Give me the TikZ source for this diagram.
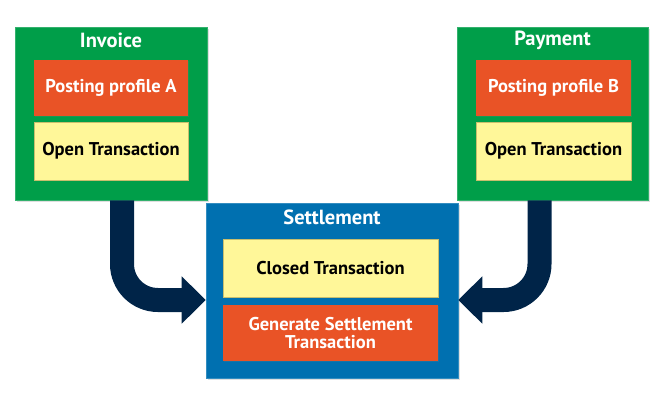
\documentclass[tikz,border=0pt]{standalone}
\usepackage{fontspec}
\setmainfont{PT Sans}
\usetikzlibrary{arrows.meta, positioning, shadows}

\definecolor{grpgreen}{RGB}{0,158,73}
\definecolor{grpblue}{RGB}{0,112,176}
\definecolor{boxorange}{RGB}{233,83,38}
\definecolor{boxyellow}{RGB}{255,247,153}
\definecolor{yellowline}{RGB}{200,190,110}
\definecolor{flownavy}{RGB}{0,36,72}

\tikzset{
  group/.style={draw=#1!80!white, fill=#1, line width=0.6pt, drop shadow={opacity=0.25, shadow xshift=1.5pt, shadow yshift=-1.5pt}},
  title/.style={text=white, font=\bfseries\fontsize{20.5}{22}\selectfont},
  profile/.style={fill=boxorange, text=white, align=center, font=\bfseries\fontsize{18.5}{18}\selectfont, drop shadow={opacity=0.2, shadow xshift=1pt, shadow yshift=-1pt}},
  trans/.style={fill=boxyellow, draw=yellowline, line width=0.6pt, text=black, font=\bfseries\fontsize{18.5}{18}\selectfont, drop shadow={opacity=0.2, shadow xshift=1pt, shadow yshift=-1pt}},
  flow/.style={draw=flownavy, line width=24pt, rounded corners=36pt, -{Triangle[length=24pt,width=46pt]}}
}

\begin{document}
\begin{tikzpicture}[x=1pt, y=-1pt, inner sep=0pt]
    \useasboundingbox (0,0) rectangle (664,400);

    % invoice
    \node[group=grpgreen, minimum width=192pt, minimum height=173pt] (invoice) at (111,113.5) {};
    \node[title] (invtitle) at (111,40) {Invoice};
    \node[profile, minimum width=154pt, minimum height=56pt] (profA) at (111,88) {Posting profile A};
    \node[trans, minimum width=154pt, minimum height=58pt] (openA) at (111,151) {Open Transaction};

    % payment
    \node[group=grpgreen, minimum width=191pt, minimum height=173pt] (payment) at (552.5,113.5) {};
    \node[title] (paytitle) at (552.5,40) {Payment};
    \node[profile, minimum width=155pt, minimum height=56pt] (profB) at (553.5,88) {Posting profile B};
    \node[trans, minimum width=155pt, minimum height=58pt] (openB) at (553.5,151) {Open Transaction};

    % settlement
    \node[group=grpblue, minimum width=252pt, minimum height=175pt] (settle) at (332,290.5) {};
    \node[title] (settitle) at (332,217) {Settlement};
    \node[trans, minimum width=215pt, minimum height=58pt] (closed) at (330.5,268) {Closed Transaction};
    \node[profile, minimum width=215pt, minimum height=56pt] (gen) at (330.5,333) {Generate Settlement\\Transaction};

    \draw[flow] ([xshift=11pt]invoice.south) |- ([yshift=-9.5pt]settle.west);
    \draw[flow] ([xshift=-13pt]payment.south) |- ([yshift=-9.5pt]settle.east);
\end{tikzpicture}
\end{document}
